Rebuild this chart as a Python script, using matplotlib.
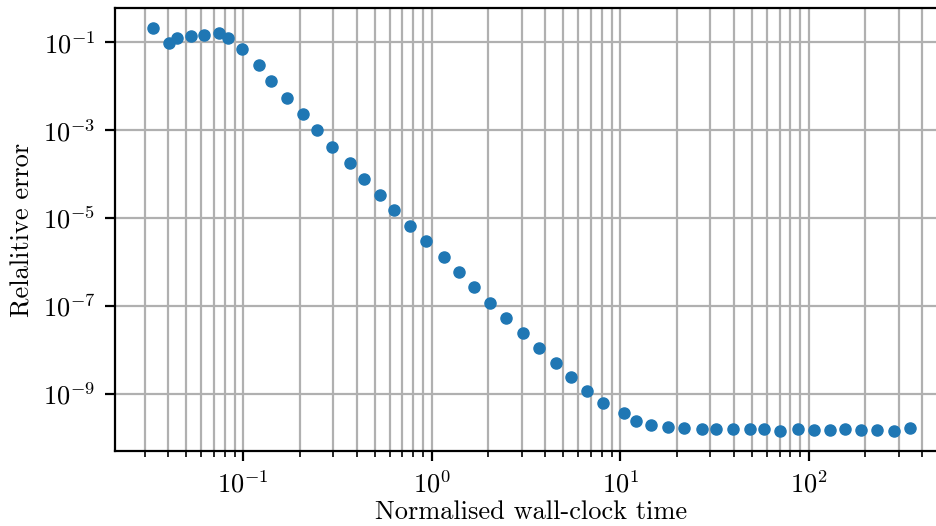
import numpy as np
import matplotlib
matplotlib.use("Agg")
import matplotlib.pyplot as plt
from matplotlib.ticker import NullLocator

# Data
wall_time = [0.0332, 0.0404, 0.0448, 0.0531, 0.0619, 0.0748, 0.0830, 0.0990, 0.1213, 0.1405,
             0.171, 0.2077, 0.2477, 0.296, 0.3675, 0.4377, 0.532, 0.6317, 0.770, 0.930,
             1.159, 1.388, 1.673, 2.042, 2.483, 3.056, 3.689, 4.557, 5.474, 6.681,
             8.093, 10.46, 12.12, 14.61, 17.85, 21.70, 27.15, 32.09, 39.52, 48.63,
             57.69, 70.69, 87.76, 106.3, 129.3, 156.4, 190.2, 230.4, 282.7, 345.0]
rel_error = [0.208, 0.0964, 0.125, 0.139, 0.1445, 0.158, 0.125, 0.0682, 0.0304, 0.0129,
             5.37e-3, 2.28e-3, 9.84e-4, 4.18e-4, 1.81e-4, 7.80e-5, 3.42e-5, 1.50e-5, 6.61e-6, 3.05e-6,
             1.32e-6, 5.90e-7, 2.63e-7, 1.18e-7, 5.36e-8, 2.40e-8, 1.09e-8, 5.05e-9, 2.42e-9, 1.16e-9,
             6.17e-10, 3.59e-10, 2.44e-10, 1.97e-10, 1.75e-10, 1.63e-10, 1.57e-10, 1.57e-10, 1.55e-10, 1.57e-10,
             1.57e-10, 1.44e-10, 1.55e-10, 1.52e-10, 1.49e-10, 1.57e-10, 1.52e-10, 1.52e-10, 1.44e-10, 1.63e-10]
y_ticks = [1e-1, 1e-3, 1e-5, 1e-7, 1e-9]

x_label = "Normalised wall-clock time"
y_label = "Relalitive error"

plt.rcParams.update({
    "font.family": "serif",
    "font.serif": ["cmr10"],
    "mathtext.fontset": "cm",
    "axes.formatter.use_mathtext": True,
    "font.size": 19,
    "axes.linewidth": 1.6,
    "xtick.major.size": 7, "xtick.major.width": 1.6,
    "xtick.minor.size": 4, "xtick.minor.width": 1.2,
    "ytick.major.size": 7, "ytick.major.width": 1.6,
    "ytick.minor.size": 4, "ytick.minor.width": 1.2,
    "xtick.major.pad": 7, "ytick.major.pad": 7,
    "grid.linewidth": 1.6, "grid.color": "#b0b0b0",
})

fig = plt.figure(figsize=(9.37, 5.26), dpi=100)
W, H = 937, 526
ax = fig.add_axes([115 / W, (H - 451) / H, 833 / W, 443 / H])
ax.plot(wall_time, rel_error, linestyle="none", marker="o", markersize=8, color="#1f77b4")
ax.set_xscale("log")
ax.set_yscale("log")
ax.set_yticks(y_ticks)
ax.yaxis.set_minor_locator(NullLocator())
ax.grid(True, which="major")
ax.grid(True, which="minor", axis="x")
ax.set_xlabel(x_label, labelpad=2)
ax.set_ylabel(y_label, labelpad=6)
fig.savefig("out.png", dpi=100)
